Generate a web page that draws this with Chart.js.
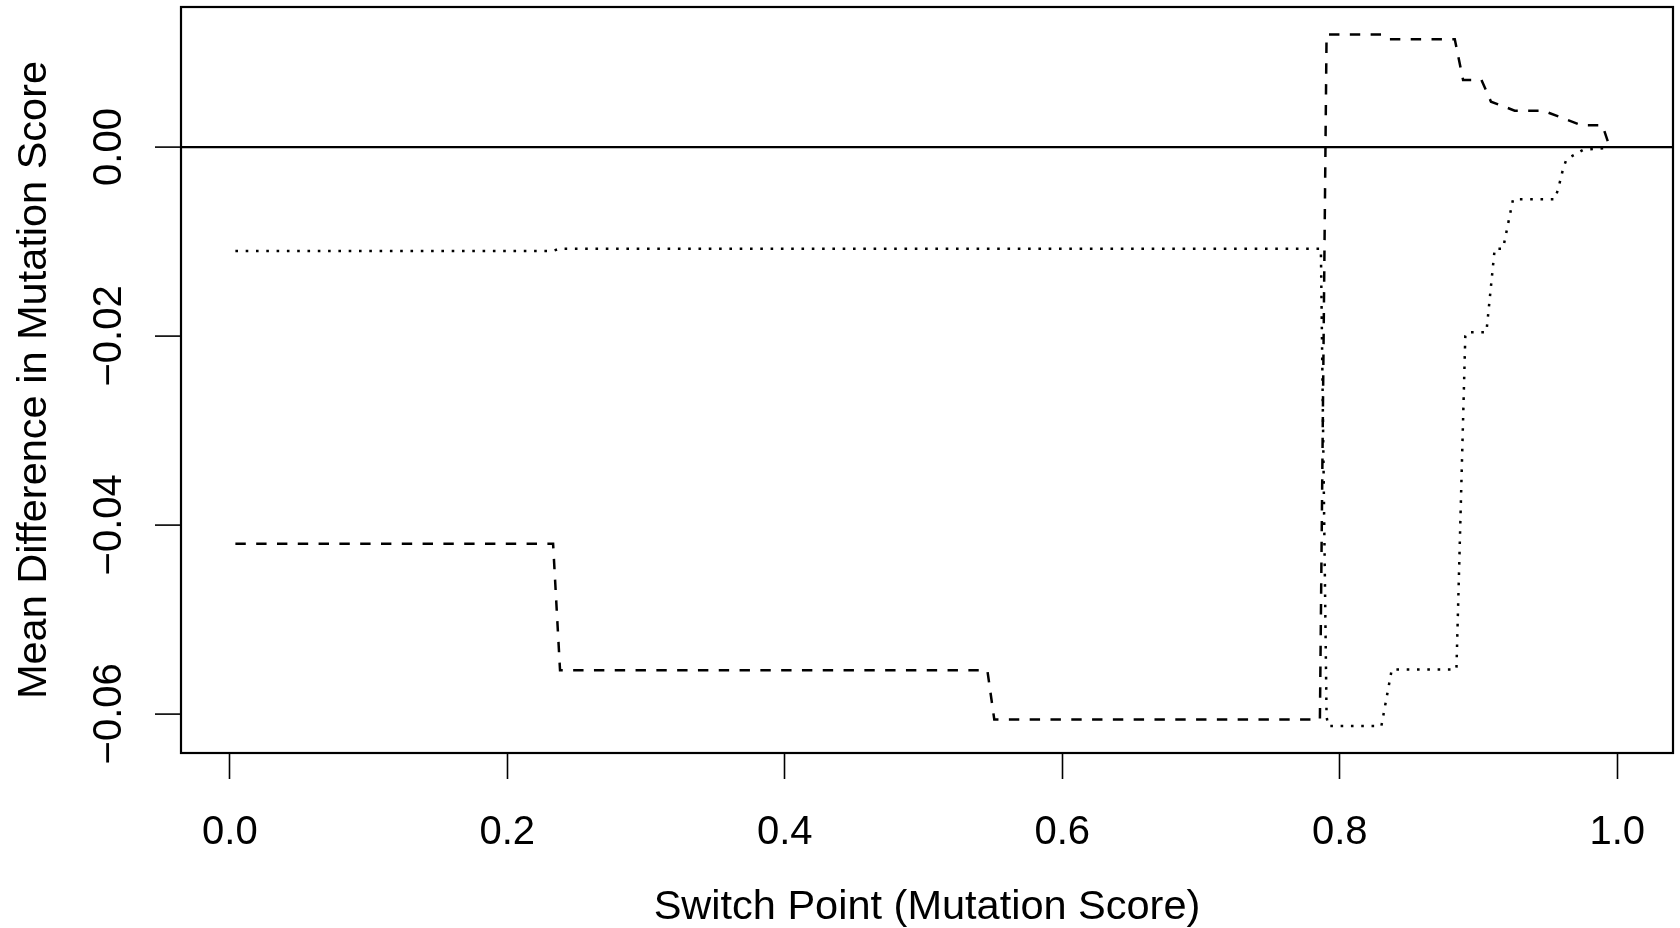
<!DOCTYPE html>
<html>
<head>
<meta charset="utf-8">
<title>Mean Difference in Mutation Score</title>
<script src="https://cdn.jsdelivr.net/npm/chart.js@4.4.1/dist/chart.umd.min.js"></script>
<style>
  html, body { margin: 0; padding: 0; background: #fff; }
  canvas { display: block; }
</style>
</head>
<body>
<canvas id="chart" width="1680" height="928"></canvas>
<script>
// dashed curve: switch point vs mean difference
const dashedX = [0.004, 0.233, 0.238, 0.546, 0.551, 0.7857, 0.7905, 0.8313, 0.8361, 0.8829, 0.8889,
  0.9021, 0.909, 0.9261, 0.9466, 0.9742, 0.9893, 0.9946];
const dashedY = [-0.042, -0.042, -0.0554, -0.0554, -0.0606, -0.0606, 0.0119, 0.0119, 0.0114, 0.0114, 0.0071,
  0.0071, 0.0048, 0.00385, 0.00385, 0.0023, 0.0023, 0.0];

// dotted curve
const dottedX = [0.004, 0.233, 0.2375, 0.7864, 0.7905, 0.7917, 0.83, 0.8375, 0.8841, 0.8905, 0.8918,
  0.9057, 0.9117, 0.9177, 0.9249, 0.955, 0.9575, 0.961, 0.9634, 0.9694, 0.9754, 0.994];
const dottedY = [-0.011, -0.011, -0.01076, -0.01076, -0.0603, -0.0613, -0.0613, -0.0553, -0.0553, -0.02, -0.0196,
  -0.0196, -0.01076, -0.01076, -0.00554, -0.00554, -0.0044, -0.0023, -0.0013, -0.0008, -0.0003, -0.0001];

const xTicks = [0, 0.2, 0.4, 0.6, 0.8, 1.0];
const yTicks = [-0.06, -0.04, -0.02, 0];

const FAMILY = "'Liberation Sans', Arial, Helvetica, sans-serif";
const font = { family: FAMILY, size: 40 };
const titleFont = { family: FAMILY, size: 41.5, lineHeight: 1 };

const toPoints = (xs, ys) => xs.map((x, i) => ({ x: x, y: ys[i] }));
const yLabel = v => (v < 0 ? "\u2212" : "") + Math.abs(v).toFixed(2);

// y labels are rotated and centred; work out the padding from the widest label
const mctx = document.createElement("canvas").getContext("2d");
mctx.font = "40px " + FAMILY;
const widestY = Math.max(...yTicks.map(v => mctx.measureText(yLabel(v)).width));
const yLabelCentre = 109.5; // px from left edge
const yTickLen = 26;
const yPad = 181 - yTickLen - yLabelCentre - widestY / 2;

const plotBox = {
  id: "plotBox",
  afterDatasetsDraw(chart) {
    const { ctx, chartArea: a } = chart;
    ctx.save();
    ctx.strokeStyle = "#000";
    ctx.lineWidth = 2.2;
    ctx.strokeRect(a.left, a.top, a.right - a.left, a.bottom - a.top);
    ctx.restore();
  },
};

const lineStyle = {
  showLine: true,
  borderColor: "#000",
  borderWidth: 2.5,
  borderCapStyle: "butt",
  pointRadius: 0,
  fill: false,
  tension: 0,
};

new Chart(document.getElementById("chart").getContext("2d"), {
  type: "scatter",
  data: {
    datasets: [
      { ...lineStyle, label: "dashed", data: toPoints(dashedX, dashedY), borderDash: [10.4, 10.4] },
      { ...lineStyle, label: "dotted", data: toPoints(dottedX, dottedY), borderDash: [2.6, 7.7] },
    ],
  },
  options: {
    responsive: false,
    animation: false,
    events: [],
    layout: { padding: { top: 7, right: 7, bottom: 0, left: 0 } },
    plugins: { legend: { display: false }, tooltip: { enabled: false } },
    scales: {
      x: {
        type: "linear",
        min: -0.0352,
        max: 1.0402,
        border: { display: false },
        grid: { drawOnChartArea: false, tickLength: 26, tickColor: "#000", tickWidth: 1.6 },
        ticks: {
          font: font,
          color: "#000",
          padding: 29.5,
          maxRotation: 0,
          minRotation: 0,
          autoSkip: false,
          callback: v => v.toFixed(1),
        },
        afterBuildTicks: s => { s.ticks = xTicks.map(v => ({ value: v })); },
        afterFit: s => { s.height = 175; s.paddingLeft = 0; s.paddingRight = 0; },
        title: {
          display: true,
          text: "Switch Point (Mutation Score)",
          font: titleFont,
          color: "#000",
          padding: { top: 0, bottom: 0 },
        },
      },
      y: {
        type: "linear",
        min: -0.06415,
        max: 0.01482,
        border: { display: false },
        grid: {
          drawOnChartArea: true,
          color: c => (c.tick && c.tick.value === 0 ? "#000" : "rgba(0,0,0,0)"),
          lineWidth: 2.2,
          tickLength: yTickLen,
          tickColor: "#000",
          tickWidth: 1.6,
        },
        ticks: {
          font: font,
          color: "#000",
          padding: yPad,
          crossAlign: "center",
          minRotation: 90,
          maxRotation: 90,
          autoSkip: false,
          callback: v => yLabel(v),
        },
        afterBuildTicks: s => { s.ticks = yTicks.map(v => ({ value: v })); },
        afterFit: s => { s.width = 181; s.paddingTop = 0; s.paddingBottom = 0; },
        title: {
          display: true,
          text: "Mean Difference in Mutation Score",
          font: titleFont,
          color: "#000",
          padding: { top: 13.5, bottom: 0 },
        },
      },
    },
  },
  plugins: [plotBox],
});
</script>
</body>
</html>
